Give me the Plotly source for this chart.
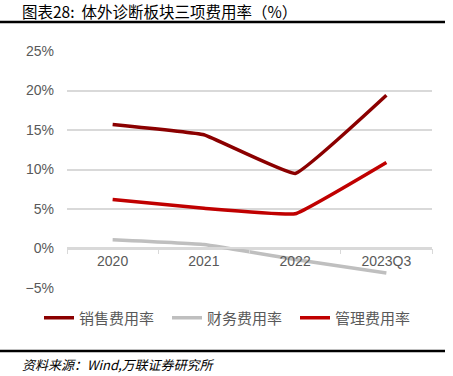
import plotly.graph_objects as go

categories = ["2020", "2021", "2022", "2023Q3"]
sales_rate = [15.7, 14.4, 9.5, 19.4]
finance_rate = [1.1, 0.5, -1.4, -3.1]
admin_rate = [6.2, 5.1, 4.4, 10.9]
y_ticks = [-5, 0, 5, 10, 15, 20, 25]
y_tick_labels = ["−5%", "0%", "5%", "10%", "15%", "20%", "25%"]

W, H = 453, 376
L, R, T, B = 67, 432, 51, 288
pw, ph = R - L, B - T

def px(x):
    return (x - L) / pw

def py(y):
    return (B - y) / ph

cjk = "Noto Sans CJK SC"

fig = go.Figure()
series = [
    ("销售费用率", sales_rate, "#8b0000"),
    ("财务费用率", finance_rate, "#bfbfbf"),
    ("管理费用率", admin_rate, "#c00000"),
]
for name, vals, color in series:
    fig.add_trace(go.Scatter(
        x=categories, y=vals, name=name, mode="lines",
        line=dict(color=color, width=3.5, shape="spline", smoothing=0.25),
    ))

fig.update_layout(
    width=W, height=H,
    margin=dict(l=L, r=W - R, t=T, b=H - B, autoexpand=False),
    paper_bgcolor="white", plot_bgcolor="white",
    font=dict(family="Arial, Liberation Sans, sans-serif", color="#595959"),
    showlegend=True,
    legend=dict(
        orientation="h", x=px(39), xanchor="left", y=py(318), yanchor="middle",
        font=dict(family=cjk, size=15, color="#595959"),
        itemwidth=30, tracegroupgap=0, entrywidth=83, entrywidthmode="pixels",
    ),
    xaxis=dict(
        type="category", anchor="free", position=py(248),
        showline=True, linecolor="#d9d9d9", linewidth=1.5,
        ticks="outside", tickson="boundaries", ticklen=5, tickcolor="#d9d9d9",
        showgrid=False, tickfont=dict(size=14, color="#595959"),
        range=[-0.5, 3.5],
    ),
    yaxis=dict(
        range=[-5, 25], tickvals=y_ticks, ticktext=y_tick_labels,
        showgrid=True, gridcolor="#d9d9d9", gridwidth=1.5,
        zeroline=False, tickfont=dict(size=14, color="#595959"),
        ticks="", ticklabelstandoff=12,
    ),
    shapes=[
        dict(type="line", xref="paper", yref="paper", x0=px(0), x1=px(445),
             y0=py(22), y1=py(22), line=dict(color="black", width=2.5)),
        dict(type="line", xref="paper", yref="paper", x0=px(0), x1=px(445),
             y0=py(351), y1=py(351), line=dict(color="black", width=2.5)),
    ],
    annotations=[
        dict(text="图表28:  体外诊断板块三项费用率（%）", xref="paper", yref="paper",
             x=px(20), y=py(11), xanchor="left", yanchor="middle", showarrow=False,
             font=dict(family=cjk, size=15.5, color="black")),
        dict(text="<i>资料来源：Wind,万联证券研究所</i>", xref="paper", yref="paper",
             x=px(20), y=py(364), xanchor="left", yanchor="middle", showarrow=False,
             font=dict(family=cjk, size=13, color="black")),
    ],
)

fig.write_html("out.html", config={"displayModeBar": False},
               post_script="document.body.style.margin='0';")
